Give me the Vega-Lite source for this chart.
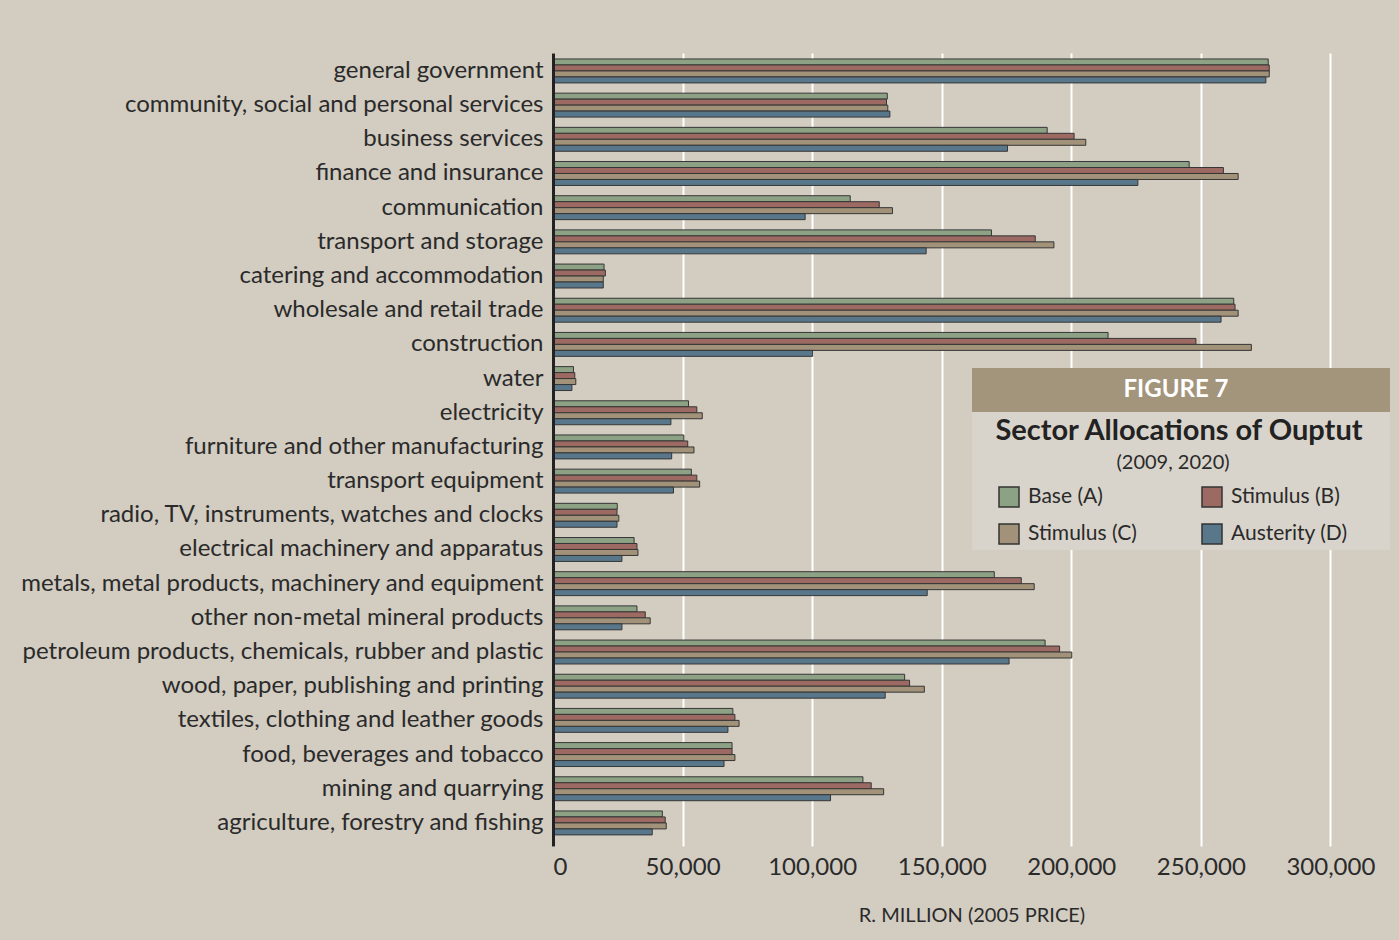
{
  "$schema": "https://vega.github.io/schema/vega-lite/v6.json",
  "width": 837,
  "height": 793,
  "autosize": {"type": "none"},
  "padding": {"left": 553, "top": 53, "right": 9, "bottom": 94},
  "background": "#d2ccc1",
  "config": {
    "font": "Lato",
    "view": {"stroke": null},
    "axis": {"labelColor": "#2a2a2a", "titleColor": "#2a2a2a"}
  },
  "data": {
    "values": [
      {"sector": "general government", "scenario": "Base (A)", "value": 276000},
      {"sector": "general government", "scenario": "Stimulus (B)", "value": 276400},
      {"sector": "general government", "scenario": "Stimulus (C)", "value": 276400},
      {"sector": "general government", "scenario": "Austerity (D)", "value": 275100},
      {"sector": "community, social and personal services", "scenario": "Base (A)", "value": 129000},
      {"sector": "community, social and personal services", "scenario": "Stimulus (B)", "value": 128700},
      {"sector": "community, social and personal services", "scenario": "Stimulus (C)", "value": 129200},
      {"sector": "community, social and personal services", "scenario": "Austerity (D)", "value": 130000},
      {"sector": "business services", "scenario": "Base (A)", "value": 190700},
      {"sector": "business services", "scenario": "Stimulus (B)", "value": 201100},
      {"sector": "business services", "scenario": "Stimulus (C)", "value": 205600},
      {"sector": "business services", "scenario": "Austerity (D)", "value": 175400},
      {"sector": "finance and insurance", "scenario": "Base (A)", "value": 245500},
      {"sector": "finance and insurance", "scenario": "Stimulus (B)", "value": 258700},
      {"sector": "finance and insurance", "scenario": "Stimulus (C)", "value": 264400},
      {"sector": "finance and insurance", "scenario": "Austerity (D)", "value": 225700},
      {"sector": "communication", "scenario": "Base (A)", "value": 114700},
      {"sector": "communication", "scenario": "Stimulus (B)", "value": 125900},
      {"sector": "communication", "scenario": "Stimulus (C)", "value": 131000},
      {"sector": "communication", "scenario": "Austerity (D)", "value": 97300},
      {"sector": "transport and storage", "scenario": "Base (A)", "value": 169200},
      {"sector": "transport and storage", "scenario": "Stimulus (B)", "value": 186100},
      {"sector": "transport and storage", "scenario": "Stimulus (C)", "value": 193300},
      {"sector": "transport and storage", "scenario": "Austerity (D)", "value": 144000},
      {"sector": "catering and accommodation", "scenario": "Base (A)", "value": 19700},
      {"sector": "catering and accommodation", "scenario": "Stimulus (B)", "value": 20200},
      {"sector": "catering and accommodation", "scenario": "Stimulus (C)", "value": 19400},
      {"sector": "catering and accommodation", "scenario": "Austerity (D)", "value": 19400},
      {"sector": "wholesale and retail trade", "scenario": "Base (A)", "value": 262700},
      {"sector": "wholesale and retail trade", "scenario": "Stimulus (B)", "value": 263200},
      {"sector": "wholesale and retail trade", "scenario": "Stimulus (C)", "value": 264400},
      {"sector": "wholesale and retail trade", "scenario": "Austerity (D)", "value": 257800},
      {"sector": "construction", "scenario": "Base (A)", "value": 214200},
      {"sector": "construction", "scenario": "Stimulus (B)", "value": 248100},
      {"sector": "construction", "scenario": "Stimulus (C)", "value": 269500},
      {"sector": "construction", "scenario": "Austerity (D)", "value": 100200},
      {"sector": "water", "scenario": "Base (A)", "value": 7900},
      {"sector": "water", "scenario": "Stimulus (B)", "value": 8400},
      {"sector": "water", "scenario": "Stimulus (C)", "value": 8800},
      {"sector": "water", "scenario": "Austerity (D)", "value": 7300},
      {"sector": "electricity", "scenario": "Base (A)", "value": 52300},
      {"sector": "electricity", "scenario": "Stimulus (B)", "value": 55500},
      {"sector": "electricity", "scenario": "Stimulus (C)", "value": 57600},
      {"sector": "electricity", "scenario": "Austerity (D)", "value": 45500},
      {"sector": "furniture and other manufacturing", "scenario": "Base (A)", "value": 50500},
      {"sector": "furniture and other manufacturing", "scenario": "Stimulus (B)", "value": 52000},
      {"sector": "furniture and other manufacturing", "scenario": "Stimulus (C)", "value": 54400},
      {"sector": "furniture and other manufacturing", "scenario": "Austerity (D)", "value": 45800},
      {"sector": "transport equipment", "scenario": "Base (A)", "value": 53400},
      {"sector": "transport equipment", "scenario": "Stimulus (B)", "value": 55500},
      {"sector": "transport equipment", "scenario": "Stimulus (C)", "value": 56600},
      {"sector": "transport equipment", "scenario": "Austerity (D)", "value": 46500},
      {"sector": "radio, TV, instruments, watches and clocks", "scenario": "Base (A)", "value": 24800},
      {"sector": "radio, TV, instruments, watches and clocks", "scenario": "Stimulus (B)", "value": 24700},
      {"sector": "radio, TV, instruments, watches and clocks", "scenario": "Stimulus (C)", "value": 25400},
      {"sector": "radio, TV, instruments, watches and clocks", "scenario": "Austerity (D)", "value": 24700},
      {"sector": "electrical machinery and apparatus", "scenario": "Base (A)", "value": 31300},
      {"sector": "electrical machinery and apparatus", "scenario": "Stimulus (B)", "value": 32400},
      {"sector": "electrical machinery and apparatus", "scenario": "Stimulus (C)", "value": 32800},
      {"sector": "electrical machinery and apparatus", "scenario": "Austerity (D)", "value": 26600},
      {"sector": "metals, metal products, machinery and equipment", "scenario": "Base (A)", "value": 170300},
      {"sector": "metals, metal products, machinery and equipment", "scenario": "Stimulus (B)", "value": 180700},
      {"sector": "metals, metal products, machinery and equipment", "scenario": "Stimulus (C)", "value": 185700},
      {"sector": "metals, metal products, machinery and equipment", "scenario": "Austerity (D)", "value": 144400},
      {"sector": "other non-metal mineral products", "scenario": "Base (A)", "value": 32400},
      {"sector": "other non-metal mineral products", "scenario": "Stimulus (B)", "value": 35600},
      {"sector": "other non-metal mineral products", "scenario": "Stimulus (C)", "value": 37500},
      {"sector": "other non-metal mineral products", "scenario": "Austerity (D)", "value": 26600},
      {"sector": "petroleum products, chemicals, rubber and plastic", "scenario": "Base (A)", "value": 189900},
      {"sector": "petroleum products, chemicals, rubber and plastic", "scenario": "Stimulus (B)", "value": 195500},
      {"sector": "petroleum products, chemicals, rubber and plastic", "scenario": "Stimulus (C)", "value": 200200},
      {"sector": "petroleum products, chemicals, rubber and plastic", "scenario": "Austerity (D)", "value": 176000},
      {"sector": "wood, paper, publishing and printing", "scenario": "Base (A)", "value": 135700},
      {"sector": "wood, paper, publishing and printing", "scenario": "Stimulus (B)", "value": 137600},
      {"sector": "wood, paper, publishing and printing", "scenario": "Stimulus (C)", "value": 143300},
      {"sector": "wood, paper, publishing and printing", "scenario": "Austerity (D)", "value": 128200},
      {"sector": "textiles, clothing and leather goods", "scenario": "Base (A)", "value": 69400},
      {"sector": "textiles, clothing and leather goods", "scenario": "Stimulus (B)", "value": 70200},
      {"sector": "textiles, clothing and leather goods", "scenario": "Stimulus (C)", "value": 71800},
      {"sector": "textiles, clothing and leather goods", "scenario": "Austerity (D)", "value": 67500},
      {"sector": "food, beverages and tobacco", "scenario": "Base (A)", "value": 69100},
      {"sector": "food, beverages and tobacco", "scenario": "Stimulus (B)", "value": 69100},
      {"sector": "food, beverages and tobacco", "scenario": "Stimulus (C)", "value": 70200},
      {"sector": "food, beverages and tobacco", "scenario": "Austerity (D)", "value": 66000},
      {"sector": "mining and quarrying", "scenario": "Base (A)", "value": 119600},
      {"sector": "mining and quarrying", "scenario": "Stimulus (B)", "value": 122800},
      {"sector": "mining and quarrying", "scenario": "Stimulus (C)", "value": 127600},
      {"sector": "mining and quarrying", "scenario": "Austerity (D)", "value": 107100},
      {"sector": "agriculture, forestry and fishing", "scenario": "Base (A)", "value": 42200},
      {"sector": "agriculture, forestry and fishing", "scenario": "Stimulus (B)", "value": 43300},
      {"sector": "agriculture, forestry and fishing", "scenario": "Stimulus (C)", "value": 43700},
      {"sector": "agriculture, forestry and fishing", "scenario": "Austerity (D)", "value": 38300}
    ]
  },
  "encoding": {
    "y": {
      "field": "sector",
      "type": "nominal",
      "sort": null,
      "scale": {"paddingInner": 0.3, "paddingOuter": 0.25, "align": 0.35},
      "axis": {
        "title": null,
        "labelFontSize": 24,
        "labelPadding": 10,
        "labelDy": -2,
        "labelLimit": 1000,
        "ticks": false,
        "domainColor": "#222222",
        "domainWidth": 3,
        "zindex": 1
      }
    },
    "x": {
      "field": "value",
      "type": "quantitative",
      "scale": {"domain": [0, 323000], "nice": false},
      "axis": {
        "values": [0, 50000, 100000, 150000, 200000, 250000, 300000],
        "format": ",d",
        "labelFontSize": 24,
        "labelPadding": 9,
        "labelDx": 3,
        "grid": true,
        "gridColor": "#ffffff",
        "gridWidth": 2,
        "domain": false,
        "ticks": false,
        "title": "R. MILLION (2005 PRICE)",
        "titleFontSize": 20,
        "titleFontWeight": "normal",
        "titlePadding": 26
      }
    }
  },
  "layer": [
    {
      "mark": {"type": "bar", "stroke": "#363636", "strokeWidth": 1},
      "encoding": {
        "yOffset": {
          "field": "scenario",
          "type": "nominal",
          "scale": {"domain": ["Base (A)", "Stimulus (B)", "Stimulus (C)", "Austerity (D)"], "paddingInner": 0, "paddingOuter": 0}
        },
        "fill": {
          "field": "scenario",
          "type": "nominal",
          "scale": {
            "domain": ["Base (A)", "Stimulus (B)", "Stimulus (C)", "Austerity (D)"],
            "range": ["#8da285", "#9c6a62", "#a29279", "#59778b"]
          },
          "legend": {
            "values": ["Base (A)", "Stimulus (C)", "Stimulus (B)", "Austerity (D)"],
            "orient": "none",
            "legendX": 445,
            "legendY": 400,
            "title": "(2009, 2020)",
            "titleFontSize": 20,
            "titleFontWeight": "normal",
            "titleColor": "#2a2a2a",
            "titleAnchor": "middle",
            "titlePadding": 13,
            "columns": 2,
            "columnPadding": 62,
            "rowPadding": 11,
            "symbolType": "square",
            "symbolSize": 400,
            "symbolStrokeColor": "#333333",
            "symbolStrokeWidth": 1.5,
            "labelFontSize": 21,
            "labelOffset": 8,
            "labelColor": "#2a2a2a",
            "padding": 0,
            "zindex": 3
          }
        }
      }
    },
    {
      "mark": {"type": "point", "opacity": 0},
      "encoding": {
        "stroke": {
          "field": "value",
          "type": "quantitative",
          "legend": {
            "values": [],
            "orient": "none",
            "legendX": 419,
            "legendY": 315,
            "direction": "horizontal",
            "title": "FIGURE 7",
            "titleFontSize": 24,
            "titleFontWeight": "bold",
            "titleColor": "#ffffff",
            "titleAnchor": "middle",
            "titlePadding": 0,
            "padding": 10,
            "gradientLength": 398,
            "gradientThickness": 1,
            "gradientOpacity": 0,
            "gradientStrokeWidth": 0,
            "labelFontSize": 0,
            "labelOpacity": 0,
            "labelOffset": 0,
            "fillColor": "#a3947c",
            "zindex": 1
          }
        }
      }
    },
    {
      "mark": {"type": "point", "opacity": 0, "filled": true},
      "encoding": {
        "color": {
          "field": "value",
          "type": "quantitative",
          "legend": {
            "values": [],
            "orient": "none",
            "legendX": 419,
            "legendY": 359,
            "direction": "horizontal",
            "title": "Sector Allocations of Ouptut",
            "titleFontSize": 29,
            "titleFontWeight": "bold",
            "titleColor": "#222222",
            "titleAnchor": "middle",
            "titleLimit": 1000,
            "titlePadding": 0,
            "padding": 5,
            "gradientLength": 408,
            "gradientThickness": 99,
            "gradientOpacity": 0,
            "gradientStrokeWidth": 0,
            "labelFontSize": 0,
            "labelOpacity": 0,
            "labelOffset": 0,
            "fillColor": "#d9d4cb",
            "zindex": 1
          }
        }
      }
    }
  ]
}
